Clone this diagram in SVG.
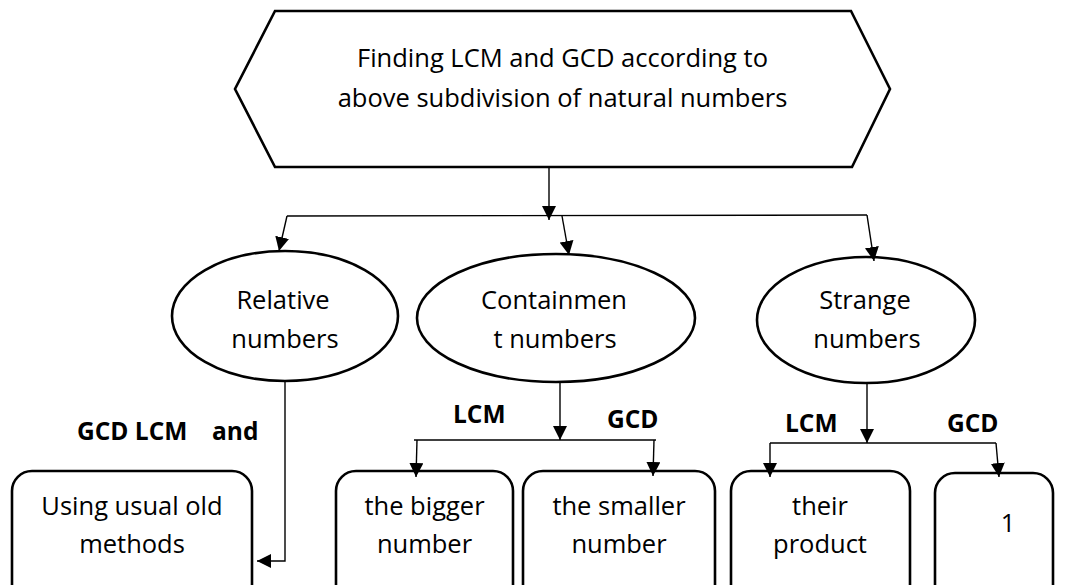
<svg xmlns="http://www.w3.org/2000/svg" width="1068" height="585" viewBox="0 0 1068 585">
  <style>
    .shape { fill: #ffffff; stroke: #000000; stroke-width: 2.6; }
    .conn { fill: none; stroke: #000000; stroke-width: 1.4; }
    .txt { font-family: "Open Sans", "Noto Sans", sans-serif; font-size: 25.5px; fill: #000000; text-anchor: middle; }
    .lbl { font-family: "Open Sans", "Noto Sans", sans-serif; font-size: 24.5px; font-weight: bold; fill: #000000; }
  </style>
  <defs>
    <marker id="arrow" markerUnits="userSpaceOnUse" markerWidth="14" markerHeight="14" refX="14" refY="7" orient="auto">
      <path d="M0,0 L14,7 L0,14 z" fill="#000000"/>
    </marker>
  </defs>
  <rect width="1068" height="585" fill="#ffffff"/>

  <!-- Title hexagon -->
  <g id="title">
    <polygon class="shape" points="275,11 851,11 890,89 852,167 275,167 235,89"/>
    <text class="txt" x="562.5" y="67">Finding LCM and GCD according to</text>
    <text class="txt" x="562.5" y="107">above subdivision of natural numbers</text>
  </g>

  <!-- Category ellipses -->
  <g id="relative">
    <ellipse class="shape" cx="285" cy="316" rx="113" ry="65"/>
    <text class="txt" x="283" y="309">Relative</text>
    <text class="txt" x="285" y="348">numbers</text>
  </g>
  <g id="containment">
    <ellipse class="shape" cx="556" cy="318" rx="139" ry="64"/>
    <text class="txt" x="554" y="309">Containmen</text>
    <text class="txt" x="555" y="348">t numbers</text>
  </g>
  <g id="strange">
    <ellipse class="shape" cx="866" cy="320" rx="109" ry="63"/>
    <text class="txt" x="865" y="309">Strange</text>
    <text class="txt" x="867" y="348">numbers</text>
  </g>

  <!-- Result boxes -->
  <g id="old-methods">
    <rect class="shape" x="12" y="471" width="240" height="140" rx="20" ry="20"/>
    <text class="txt" x="132" y="515">Using usual old</text>
    <text class="txt" x="132" y="553">methods</text>
  </g>
  <g id="bigger">
    <rect class="shape" x="336" y="471" width="177" height="140" rx="20" ry="20"/>
    <text class="txt" x="424.5" y="515">the bigger</text>
    <text class="txt" x="424.5" y="553">number</text>
  </g>
  <g id="smaller">
    <rect class="shape" x="523" y="471" width="192" height="140" rx="20" ry="20"/>
    <text class="txt" x="619" y="515">the smaller</text>
    <text class="txt" x="619" y="553">number</text>
  </g>
  <g id="product">
    <rect class="shape" x="731" y="471" width="179" height="140" rx="20" ry="20"/>
    <text class="txt" x="820" y="515">their</text>
    <text class="txt" x="820" y="553">product</text>
  </g>
  <g id="one">
    <rect class="shape" x="935" y="473" width="118" height="140" rx="20" ry="20"/>
    <text class="txt" x="1008" y="532">1</text>
  </g>

  <!-- Connectors -->
  <g id="connectors">
    <path class="conn" d="M549,167 L549,220" marker-end="url(#arrow)"/>
    <path class="conn" d="M287,216 L867,215"/>
    <path class="conn" d="M287,216 L279,251" marker-end="url(#arrow)"/>
    <path class="conn" d="M562,216 L569,255" marker-end="url(#arrow)"/>
    <path class="conn" d="M867,215 L874,261" marker-end="url(#arrow)"/>

    <path class="conn" d="M285,381 L285,561 L257,561" marker-end="url(#arrow)"/>

    <path class="conn" d="M560,383 L560,440" marker-end="url(#arrow)"/>
    <path class="conn" d="M414,440 L656,440"/>
    <path class="conn" d="M417,440 L416,477" marker-end="url(#arrow)"/>
    <path class="conn" d="M654,440 L653,476" marker-end="url(#arrow)"/>

    <path class="conn" d="M867,383 L867,443" marker-end="url(#arrow)"/>
    <path class="conn" d="M770,443 L996,443"/>
    <path class="conn" d="M770,443 L770,477" marker-end="url(#arrow)"/>
    <path class="conn" d="M996,443 L999,477" marker-end="url(#arrow)"/>
  </g>

  <!-- Branch labels -->
  <g id="labels">
    <text class="lbl" x="77" y="440">GCD LCM</text>
    <text class="lbl" x="212" y="440">and</text>
    <text class="lbl" x="453" y="423">LCM</text>
    <text class="lbl" x="607" y="428">GCD</text>
    <text class="lbl" x="785" y="432">LCM</text>
    <text class="lbl" x="947" y="432">GCD</text>
  </g>
</svg>
